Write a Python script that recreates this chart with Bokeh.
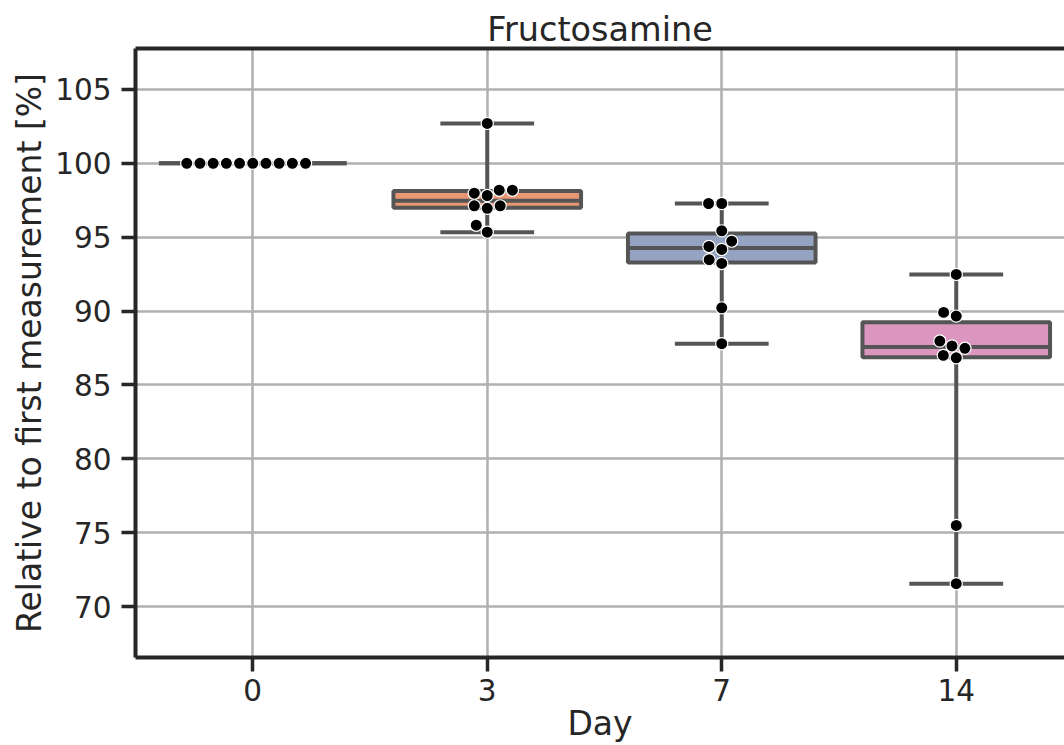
import numpy as np
from bokeh.plotting import figure
from bokeh.models import Range1d, FixedTicker, LinearAxis
from bokeh.embed import file_html
from bokeh.resources import INLINE

# ---------------- data ----------------
days = ["0", "3", "7", "14"]
day0 = [100.0, 100.0, 100.0, 100.0, 100.0, 100.0, 100.0, 100.0, 100.0, 100.0]
day3 = [102.70, 98.18, 98.18, 97.98, 97.82, 97.12, 96.95, 97.12, 95.81, 95.34]
day7 = [97.28, 97.28, 95.43, 94.73, 94.37, 94.17, 93.48, 93.22, 90.22, 87.79]
day14 = [92.48, 89.91, 89.66, 87.97, 87.64, 87.48, 87.00, 86.84, 75.49, 71.55]
groups = [day0, day3, day7, day14]
box_colors = ["#75b9a0", "#e99675", "#95a3c3", "#db96c0"]
y_ticks = [70, 75, 80, 85, 90, 95, 100, 105]

# ---------------- layout ----------------
W, H = 1064, 745
FL, FT, FB = 135, 48, 87
frame_w = W - FL
frame_h = H - FT - FB
px_per_cat = 234.5
px_per_unit = 14.8
x_start = -0.5
x_end = x_start + frame_w / px_per_cat
y_end = 107.77
y_start = y_end - frame_h / px_per_unit

TXT = "#262626"
LINE = "#555555"
FONT = "DejaVu Sans"


def beeswarm(values, diam):
    """seaborn-like swarm placement in pixel space, returns x offsets (px)."""
    vals = np.asarray(values, dtype=float)
    order = np.argsort(vals, kind="stable")
    ys = vals[order] * px_per_unit
    r = diam / 2.0
    swarm = [(0.0, ys[0])]
    for y_i in ys[1:]:
        neigh = []
        for (xj, yj) in reversed(swarm):
            if (y_i - yj) < 2 * r:
                neigh.append((xj, yj))
            else:
                break
        neigh = neigh[::-1]
        cands = [(0.0, y_i)]
        left_first = True
        for (xj, yj) in neigh:
            dy = y_i - yj
            dx = np.sqrt(max((2 * r) ** 2 - dy ** 2, 0)) * 1.05
            cl, cr = (xj - dx, y_i), (xj + dx, y_i)
            cands.extend([cl, cr] if left_first else [cr, cl])
            left_first = not left_first
        offs = np.abs(np.array([c[0] for c in cands]))
        cands = [cands[k] for k in np.argsort(offs, kind="stable")]
        chosen = cands[0]
        if neigh:
            nx = np.array([n[0] for n in neigh])
            ny = np.array([n[1] for n in neigh])
            for c in cands:
                d2 = (nx - c[0]) ** 2 + (ny - c[1]) ** 2
                if np.all(d2 >= (2 * r) ** 2 - 1e-9):
                    chosen = c
                    break
        swarm.append(chosen)
    xs = np.empty(len(vals))
    for k, idx in enumerate(order):
        xs[idx] = swarm[k][0]
    return xs


p = figure(width=W, height=H,
           x_range=Range1d(x_start, x_end), y_range=Range1d(y_start, y_end),
           output_backend="svg", toolbar_location=None,
           min_border_left=FL, min_border_right=0,
           min_border_top=FT, min_border_bottom=FB,
           title="Fructosamine")
p.outline_line_color = None
p.background_fill_color = "white"
p.border_fill_color = "white"

p.title.text_font = FONT
p.title.text_font_size = "33.5px"
p.title.text_font_style = "normal"
p.title.text_color = TXT
p.title.align = "center"
p.title.standoff = 0
p.title.offset = 4

xb = p.below[0]
yl = p.left[0]
for ax in (xb, yl):
    ax.axis_line_color = TXT
    ax.axis_line_width = 4
    ax.major_tick_line_color = TXT
    ax.major_tick_line_width = 3.5
    ax.major_tick_out = 14
    ax.major_tick_in = 0
    ax.minor_tick_line_color = None
    ax.major_label_text_font = FONT
    ax.major_label_text_font_size = "29.5px"
    ax.major_label_text_color = TXT
    ax.axis_label_text_font = FONT
    ax.axis_label_text_font_size = "33px"
    ax.axis_label_text_font_style = "normal"
    ax.axis_label_text_color = TXT

xb.ticker = FixedTicker(ticks=list(range(len(days))))
xb.major_label_overrides = {i: d for i, d in enumerate(days)}
xb.major_label_standoff = 7
xb.axis_label = "Day"
xb.axis_label_standoff = 0

yl.ticker = FixedTicker(ticks=y_ticks)
yl.major_label_standoff = 10
yl.axis_label = "Relative to first measurement [%]"
yl.axis_label_standoff = 3

p.xgrid.ticker = FixedTicker(ticks=list(range(len(days))))
p.ygrid.ticker = FixedTicker(ticks=y_ticks)
for g in (p.xgrid, p.ygrid):
    g.grid_line_color = "#b0b0b0"
    g.grid_line_width = 2.5

top = LinearAxis(ticker=FixedTicker(ticks=[]), major_label_text_font_size="0px",
                 major_tick_out=0, major_tick_in=0, minor_tick_out=0, minor_tick_in=0,
                 major_label_standoff=0, axis_line_color=TXT, axis_line_width=4)
p.add_layout(top, "above")

# ---------------- boxes ----------------
idx = np.arange(len(groups), dtype=float)
q1 = np.array([np.percentile(g, 25) for g in groups])
med = np.array([np.percentile(g, 50) for g in groups])
q3 = np.array([np.percentile(g, 75) for g in groups])
lo = np.array([min(g) for g in groups])
hi = np.array([max(g) for g in groups])

bw = 0.4
cw = 0.2
LW = 4
p.segment(x0=idx, y0=q3, x1=idx, y1=hi, line_color=LINE, line_width=LW)
p.segment(x0=idx, y0=q1, x1=idx, y1=lo, line_color=LINE, line_width=LW)
p.segment(x0=idx - cw, y0=hi, x1=idx + cw, y1=hi, line_color=LINE, line_width=LW)
p.segment(x0=idx - cw, y0=lo, x1=idx + cw, y1=lo, line_color=LINE, line_width=LW)
p.quad(left=idx - bw, right=idx + bw, top=q3, bottom=q1,
       fill_color=box_colors, line_color=LINE, line_width=LW)
p.segment(x0=idx - bw, y0=med, x1=idx + bw, y1=med, line_color=LINE, line_width=LW)

# ---------------- swarm ----------------
sx, sy = [], []
for i, g in enumerate(groups):
    offs = beeswarm(g, 12.57)
    sx.extend(list(i + offs / px_per_cat))
    sy.extend(g)
p.scatter(x=sx, y=sy, size=12.2, fill_color="black", line_color="white", line_width=1.2)

open("out.html", "w").write(file_html(p, INLINE))
